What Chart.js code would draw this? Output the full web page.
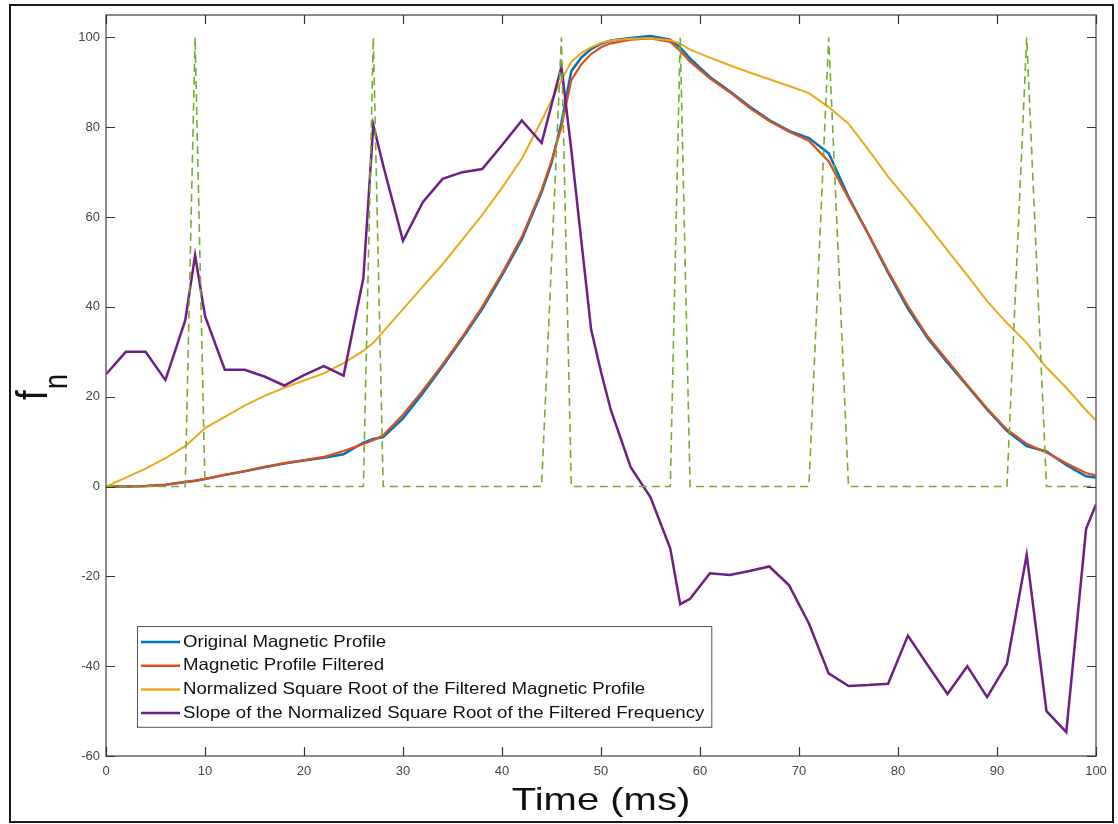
<!DOCTYPE html>
<html>
<head>
<meta charset="utf-8">
<title>Magnetic profile</title>
<script src="https://cdn.jsdelivr.net/npm/chart.js@4.4.1/dist/chart.umd.min.js"></script>
<style>
  html, body { margin: 0; padding: 0; background: #fff; }
  canvas { display: block; }
</style>
</head>
<body>
<canvas id="profileChart" width="1118" height="824"></canvas>
<script>
// sample times (ms)
const time = [0, 2, 4, 6, 8, 9, 10, 12, 14, 16, 18, 20, 22, 24, 26, 27, 28, 30, 32, 34, 36, 38, 40, 42, 44, 45, 46, 47, 48, 49, 50, 51, 53, 55, 57, 58, 59, 61, 63, 65, 67, 69, 71, 73, 75, 77, 79, 81, 83, 85, 87, 89, 91, 93, 95, 97, 99, 100]

const original = [0, 0, 0.1, 0.4, 1, 1.3, 1.7, 2.6, 3.4, 4.3, 5.1, 5.8, 6.4, 7.2, 9.8, 10.6, 11, 15.2, 20.8, 26.8, 33, 39.5, 47, 55, 65.5, 72, 81, 92.5, 95.5, 97.4, 98.6, 99.3, 99.9, 100.3, 99.5, 97.8, 95.3, 91.2, 88, 84.6, 81.6, 79.2, 77.6, 74.2, 64.5, 56.2, 47.6, 39.6, 33, 27.6, 22.4, 17.2, 12.4, 9, 7.8, 4.8, 2.3, 2]

const filtered = [0, 0, 0.1, 0.4, 1, 1.3, 1.7, 2.6, 3.4, 4.4, 5.2, 5.9, 6.6, 7.9, 9.5, 10.3, 11.4, 16, 21.4, 27.2, 33.4, 40, 47.5, 55.6, 66, 72.5, 80, 90.5, 94, 96.3, 97.8, 98.7, 99.5, 99.8, 99, 97, 94.6, 90.9, 87.8, 84.3, 81.4, 79, 77, 72.4, 64.2, 56.3, 48, 40.2, 33.4, 28, 22.6, 17.4, 12.7, 9.5, 7.6, 5.2, 3, 2.5]

const sqrtNorm = [0, 2, 4, 6.3, 9, 11, 13, 15.5, 18, 20.2, 22, 23.6, 25.2, 27.5, 30.2, 32, 34.5, 39.5, 44.5, 49.5, 55, 60.5, 66.5, 73, 81.5, 86, 90.5, 94.6, 96.5, 97.8, 98.8, 99.3, 99.7, 99.8, 99.4, 98.6, 97.3, 95.5, 93.8, 92.2, 90.7, 89.2, 87.6, 84.5, 80.8, 75, 69, 63.7, 58.2, 52.6, 47, 41.3, 36.4, 32, 26.5, 22, 17, 14.7]

const slope = [25, 30, 30, 23.7, 37, 51.5, 38, 26, 26, 24.5, 22.5, 24.8, 26.8, 24.7, 46.5, 80.5, 71.5, 54.7, 63.3, 68.5, 70, 70.7, 76, 81.5, 76.5, 85, 93.5, 75, 55, 35, 25.5, 17, 4.3, -2.4, -13.8, -26.2, -25, -19.3, -19.7, -18.8, -17.8, -22, -30.5, -41.6, -44.4, -44.2, -43.9, -33.2, -39.8, -46.2, -40, -46.9, -39.5, -15.2, -50, -54.7, -9.4, -4]

const peaks = [0, 0, 0, 0, 0, 100, 0, 0, 0, 0, 0, 0, 0, 0, 0, 100, 0, 0, 0, 0, 0, 0, 0, 0, 0, 50, 100, 0, 0, 0, 0, 0, 0, 0, 0, 100, 0, 0, 0, 0, 0, 0, 0, 100, 0, 0, 0, 0, 0, 0, 0, 0, 0, 100, 0, 0, 0, 0]

const yTicks = [-60, -40, -20, 0, 20, 40, 60, 80, 100]

const legendLabels = [
    'Original Magnetic Profile',
    'Magnetic Profile Filtered',
    'Normalized Square Root of the Filtered Magnetic Profile',
    'Slope of the Normalized Square Root of the Filtered Frequency'
]

const FONT = '"Liberation Sans", Arial, Helvetica, sans-serif'
const STRETCH = 1.25

const pts = vals => time.map((t, i) => ({ x: t, y: vals[i] }))

// white page, outer frame, axes box, inward ticks, labels and legend
const figure = {
    id: 'figure',
    beforeDraw(chart) {
        const ctx = chart.ctx
        ctx.save()
        ctx.fillStyle = '#fff'
        ctx.fillRect(0, 0, chart.width, chart.height)
        ctx.restore()
    },
    afterDraw(chart) {
        const ctx = chart.ctx
        const { left, right, top, bottom } = chart.chartArea
        const xs = chart.scales.x
        const ys = chart.scales.y
        ctx.save()

        // axes box
        ctx.strokeStyle = '#666'
        ctx.lineWidth = 1.5
        ctx.strokeRect(left, top, right - left, bottom - top)

        // ticks pointing into the plot, on all four sides
        ctx.strokeStyle = '#333'
        ctx.lineWidth = 1.2
        ctx.beginPath()
        xs.ticks.forEach(t => {
            const px = Math.round(xs.getPixelForValue(t.value)) + 0.5
            ctx.moveTo(px, bottom); ctx.lineTo(px, bottom - 9)
            ctx.moveTo(px, top); ctx.lineTo(px, top + 9)
        })
        ys.ticks.forEach(t => {
            const py = Math.round(ys.getPixelForValue(t.value)) + 0.5
            ctx.moveTo(left, py); ctx.lineTo(left + 9, py)
            ctx.moveTo(right, py); ctx.lineTo(right - 9, py)
        })
        ctx.stroke()

        // x axis title
        ctx.fillStyle = '#111'
        ctx.textAlign = 'center'
        ctx.textBaseline = 'alphabetic'
        ctx.font = '32px ' + FONT
        ctx.save()
        ctx.translate((left + right) / 2, 810)
        ctx.scale(STRETCH, 1)
        ctx.fillText('Time (ms)', 0, 0)
        ctx.restore()

        // y axis title: f with subscript n, rotated
        ctx.save()
        ctx.translate(47, 400)
        ctx.rotate(-Math.PI / 2)
        ctx.scale(1, STRETCH)
        ctx.textAlign = 'left'
        ctx.font = '35px ' + FONT
        ctx.fillText('f', 0, 0)
        ctx.font = '27px ' + FONT
        ctx.fillText('n', 11, 16)
        ctx.restore()

        // legend
        const items = chart.data.datasets.filter(d => legendLabels.includes(d.label))
        const textStretch = 1.13
        ctx.font = '16.5px ' + FONT
        const textW = Math.max(...items.map(d => ctx.measureText(d.label).width)) * textStretch
        const lx = 137, ly = 626, rowH = 23.7
        const tx = lx + 46
        const w = tx - lx + textW + 7
        const h = rowH * items.length + 6
        ctx.fillStyle = '#fff'
        ctx.fillRect(lx, ly, w, h)
        ctx.strokeStyle = '#555'
        ctx.lineWidth = 1
        ctx.strokeRect(lx + 0.5, ly + 0.5, w, h)
        ctx.textAlign = 'left'
        ctx.textBaseline = 'middle'
        items.forEach((d, i) => {
            const cy = ly + 16 + i * rowH
            ctx.strokeStyle = d.borderColor
            ctx.lineWidth = 2.5
            ctx.beginPath()
            ctx.moveTo(lx + 4, cy); ctx.lineTo(lx + 43, cy)
            ctx.stroke()
            ctx.fillStyle = '#111'
            ctx.save()
            ctx.translate(tx, cy)
            ctx.scale(textStretch, 1)
            ctx.fillText(d.label, 0, 0)
            ctx.restore()
        })

        // outer frame of the figure
        ctx.strokeStyle = '#1a1a1a'
        ctx.lineWidth = 2
        ctx.strokeRect(10, 5, 1103, 817)
        ctx.restore()
    }
}

const ctx = document.getElementById('profileChart').getContext('2d')
const profileChart = new Chart(ctx, {
    type: 'line',
    data: {
        datasets: [
            { label: legendLabels[0], data: pts(original), borderColor: '#0072BD', borderWidth: 2.5, order: 5 },
            { label: legendLabels[1], data: pts(filtered), borderColor: '#D95319', borderWidth: 2.2, order: 4 },
            { label: legendLabels[2], data: pts(sqrtNorm), borderColor: '#EDA81C', borderWidth: 2, order: 3 },
            { label: legendLabels[3], data: pts(slope), borderColor: '#6E1F86', borderWidth: 2.5, order: 2 },
            { label: 'Peak marker', data: pts(peaks), borderColor: '#77AC30', borderWidth: 1.6, borderDash: [8, 5], order: 1 }
        ]
    },
    options: {
        responsive: false,
        animation: false,
        devicePixelRatio: 1,
        layout: { padding: { left: 10, top: 15, right: 22, bottom: 0 } },
        elements: {
            point: { radius: 0 },
            line: { tension: 0, fill: false }
        },
        plugins: {
            legend: { display: false },
            tooltip: { enabled: false }
        },
        scales: {
            x: {
                type: 'linear',
                min: 0,
                max: 100,
                grid: { display: false, drawTicks: false },
                border: { display: false },
                ticks: { stepSize: 10, color: '#444', padding: 8, maxRotation: 0, font: { size: 13, family: FONT } },
                afterFit: s => { s.height = 68 }
            },
            y: {
                min: -60,
                max: 105,
                grid: { display: false, drawTicks: false },
                border: { display: false },
                afterBuildTicks: s => { s.ticks = yTicks.map(v => ({ value: v })) },
                ticks: { color: '#444', padding: 6, font: { size: 13, family: FONT } },
                afterFit: s => { s.width = 96 }
            }
        }
    },
    plugins: [figure]
})
</script>
</body>
</html>
